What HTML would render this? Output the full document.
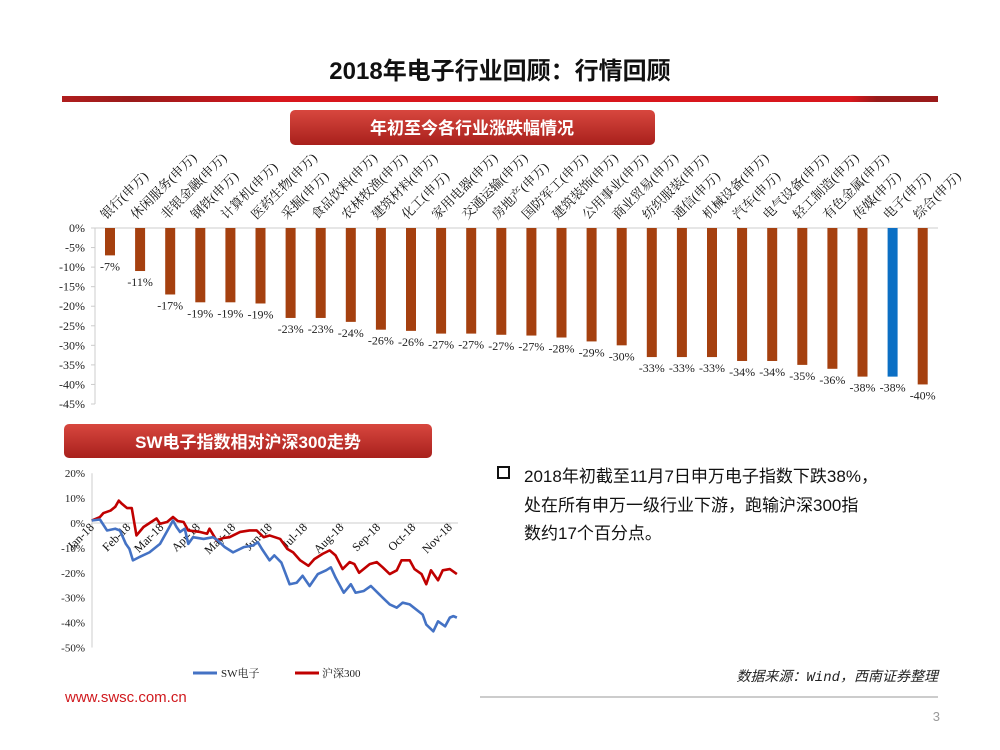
<!DOCTYPE html>
<html><head><meta charset="utf-8">
<style>
body{margin:0;width:1000px;height:750px;background:#fff;overflow:hidden;font-family:"Liberation Sans","Noto Sans CJK SC",sans-serif;}
svg{position:absolute;left:0;top:0}
</style></head>
<body>
<svg width="1000" height="750" viewBox="0 0 1000 750">
<defs>
<linearGradient id="boxg" x1="0" y1="0" x2="0" y2="1"><stop offset="0" stop-color="#d8473f"/><stop offset="1" stop-color="#a8201c"/></linearGradient>
<linearGradient id="barg" x1="0" y1="0" x2="1" y2="0"><stop offset="0" stop-color="#b01e1e"/><stop offset="0.08" stop-color="#9a1a1a"/><stop offset="0.25" stop-color="#d8171d"/><stop offset="0.9" stop-color="#d8171d"/><stop offset="0.93" stop-color="#9a1a1a"/><stop offset="1" stop-color="#9a1a1a"/></linearGradient>
</defs>
<text x="500" y="79" text-anchor="middle" font-size="24" font-weight="bold" fill="#111" font-family="'Liberation Sans','Noto Sans CJK SC',sans-serif">2018年电子行业回顾：行情回顾</text>
<rect x="62" y="96" width="876" height="6" fill="url(#barg)"/>
<rect x="290" y="110" width="365" height="35" rx="5" fill="url(#boxg)"/>
<text x="472" y="134" text-anchor="middle" font-size="17" font-weight="bold" fill="#fff">年初至今各行业涨跌幅情况</text>
<rect x="64" y="424" width="368" height="34" rx="5" fill="url(#boxg)"/>
<text x="248" y="448" text-anchor="middle" font-size="17" font-weight="bold" fill="#fff">SW电子指数相对沪深300走势</text>
<g id="barchart"></g>
<g id="linechart"></g>
<rect x="498" y="467" width="11" height="11" fill="none" stroke="#111" stroke-width="2"/>
<g font-size="17" fill="#111">
<text x="524" y="482">2018年初截至11月7日申万电子指数下跌38%，</text>
<text x="524" y="511">处在所有申万一级行业下游，跑输沪深300指</text>
<text x="524" y="539">数约17个百分点。</text>
</g>
<text x="938" y="681" text-anchor="end" font-size="14" font-style="italic" fill="#222" font-family="'Liberation Mono','Noto Sans CJK SC',monospace">数据来源：Wind，西南证券整理</text>
<line x1="480" y1="697" x2="938" y2="697" stroke="#bbb" stroke-width="1.5"/>
<text x="65" y="702" font-size="15" fill="#d0191e">www.swsc.com.cn</text>
<text x="940" y="721" text-anchor="end" font-size="13" fill="#999">3</text>
</svg>
<script>
const categories=["银行","休闲服务","非银金融","钢铁","计算机","医药生物","采掘","食品饮料","农林牧渔","建筑材料","化工","家用电器","交通运输","房地产","国防军工","建筑装饰","公用事业","商业贸易","纺织服装","通信","机械设备","汽车","电气设备","轻工制造","有色金属","传媒","电子","综合"];
const changes=[-7,-11,-17,-19,-19,-19.3,-23,-23,-24,-26,-26.3,-27,-27,-27.3,-27.5,-28,-29,-30,-33,-33,-33,-34,-34,-35,-36,-38,-38,-40];
const barTicks=[0,-5,-10,-15,-20,-25,-30,-35,-40,-45];
const hsDays=[0,7,10,16,20,23,25,30,34,38,44,55,58,64,69,73,78,82,92,98,100,106,112,117,126,134,140,146,151,160,166,171,177,184,189,196,202,207,213,219,223,227,236,242,247,253,259,263,270,274,280,284,288,294,298,304,310];
const hs300=[1,2.4,4,5,6.5,9,8,6,6,-5,-1.6,1.8,-0.3,0.4,2.4,0.8,0.4,-3,-3.6,-4.3,-2.3,-7,-6,-5.7,-3.6,-3,-3,-5.7,-5,-6.4,-10.4,-11.8,-15,-17.2,-14.5,-12.4,-11,-13,-18.5,-15.7,-16.5,-20,-16.5,-15.7,-17.8,-20.5,-19,-15,-15,-18.5,-20.5,-24.6,-19,-23,-19,-18.5,-20.5];
const swDays=[0,7,13,20,24,29,32,35,40,49,58,66,69,72,75,79,82,86,95,103,107,113,120,129,137,141,145,151,155,161,168,174,179,185,192,199,203,207,214,220,224,231,237,244,253,259,264,270,281,284,290,294,300,304,307,310];
const swElec=[1,1.4,-3,-2.3,-3,-8.4,-10.4,-15,-13.8,-11.8,-8.4,-1.6,1,-1.6,-3.6,-2.3,-8.4,-5.7,-6.4,-5.7,-7,-9.7,-11.8,-9.7,-9,-7.7,-10.8,-15,-13,-15.9,-24.6,-24,-21.2,-25.3,-20.5,-19,-17.8,-21.9,-28,-24.6,-28,-27.3,-25.3,-28.6,-32.7,-34,-32,-32.7,-36.8,-40.8,-43.5,-39.5,-41.5,-38,-37.4,-38];
const monthLabels=["Jan-18","Feb-18","Mar-18","Apr-18","May-18","Jun-18","Jul-18","Aug-18","Sep-18","Oct-18","Nov-18"];
const monthDays=[0,31,59,90,120,151,181,212,243,273,304];
const lineTicks=[20,10,0,-10,-20,-30,-40,-50];

const NS="http://www.w3.org/2000/svg";
function mk(parent,tag,attrs,txt){const e=document.createElementNS(NS,tag);for(const k in attrs)e.setAttribute(k,attrs[k]);if(txt!==undefined)e.textContent=txt;parent.appendChild(e);return e;}
const serif="'Liberation Serif','Noto Serif CJK SC',serif";

// Bar chart
const bc=document.getElementById('barchart');
const by=v=>228+(-v)*(176/45);
const bx=i=>110+i*30.1;
for(const t of barTicks){
  const l=mk(bc,'text',{x:85,y:by(t)+4,'text-anchor':'end','font-size':12,'font-family':serif,fill:'#222'},t+'%');
  
  
  const tk=mk(bc,'line',{x1:91,x2:95,y1:by(t),y2:by(t),stroke:'#ccc'});
  
  
}
const ya=mk(bc,'line',{x1:95,x2:95,y1:by(0),y2:by(-45),stroke:'#ccc'});


const xa=mk(bc,'line',{x1:95,x2:938,y1:by(0),y2:by(0),stroke:'#ccc'});


categories.forEach((c,i)=>{
  const cx=bx(i),v=changes[i];
  const r=mk(bc,'rect',{x:cx-5,y:by(0),width:10,height:by(v)-by(0),fill:c==="电子"?'#0b6fc4':'#a5400f'});
  
  
  const vl=mk(bc,'text',{x:cx,y:by(v)+15,'text-anchor':'middle','font-size':12,'font-family':serif,fill:'#222'},Math.round(v)+'%');
  
  
  const cl=mk(bc,'text',{x:cx-4,y:220,'font-size':13,'font-family':serif,fill:'#111',transform:`rotate(-45 ${cx-4} 220)`},c+'(申万)');
  
  
});

// Line chart
const lc=document.getElementById('linechart');
const ly=v=>523-v*2.49;
const lx=d=>91.7+d*1.178;
for(const t of lineTicks){
  const l=mk(lc,'text',{x:85,y:ly(t)+4,'text-anchor':'end','font-size':11,'font-family':serif,fill:'#222'},t+'%');
  
  
}
const lya=mk(lc,'line',{x1:92,x2:92,y1:ly(20),y2:ly(-50),stroke:'#ccc'});


const lxa=mk(lc,'line',{x1:92,x2:458,y1:ly(0),y2:ly(0),stroke:'#ccc'});


monthLabels.forEach((m,i)=>{
  const x=lx(monthDays[i]);
  const tk=mk(lc,'line',{x1:x,x2:x,y1:ly(0),y2:ly(0)+4,stroke:'#ccc'});
  
  
  const t=mk(lc,'text',{x:x+3,y:ly(0)+5,'text-anchor':'end','font-size':12,'font-family':serif,fill:'#111',transform:`rotate(-45 ${x+3} ${ly(0)+5})`},m);
  
  
});
function series(days,vals,color,name){
  const p=mk(lc,'polyline',{points:days.map((d,i)=>lx(d)+','+ly(vals[i])).join(' '),fill:'none',stroke:color,'stroke-width':2.6,'stroke-linejoin':'round'});
  
  
}
series(hsDays,hs300,'#c00000','line-hs300');
series(swDays,swElec,'#4472c4','line-sw-electronics');
const lg1=mk(lc,'line',{x1:193,x2:217,y1:673,y2:673,stroke:'#4472c4','stroke-width':3});


const lt1=mk(lc,'text',{x:221,y:677,'font-size':11,'font-family':serif,fill:'#222'},'SW电子');


const lg2=mk(lc,'line',{x1:295,x2:319,y1:673,y2:673,stroke:'#c00000','stroke-width':3});


const lt2=mk(lc,'text',{x:322,y:677,'font-size':11,'font-family':serif,fill:'#222'},'沪深300');


</script>
</body></html>
